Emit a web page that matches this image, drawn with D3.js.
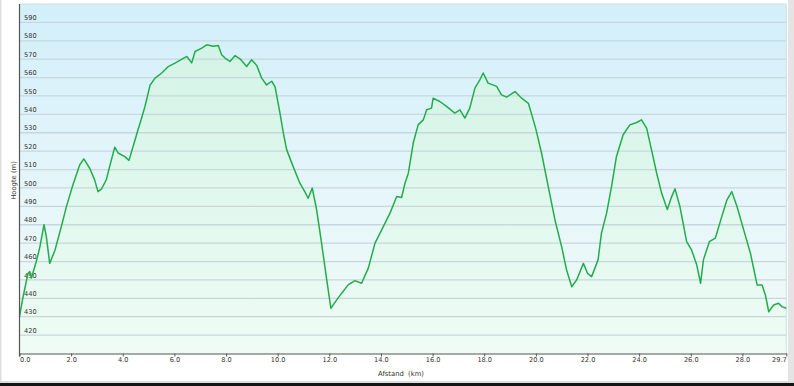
<!DOCTYPE html>
<html>
<head>
<meta charset="utf-8">
<script src="https://cdn.jsdelivr.net/npm/d3@7"></script>
<style>
  html, body { margin: 0; padding: 0; background: #ffffff; }
  svg { display: block; }
</style>
</head>
<body>
<svg id="chart" width="794" height="386"></svg>
<script>
// ---- data ----
const distanceKm = [0.00,0.14,0.33,0.40,0.46,0.65,0.79,0.95,1.04,1.17,1.37,1.62,1.82,2.07,2.33,2.49,2.72,2.91,3.04,3.17,3.36,3.56,3.69,3.82,4.08,4.24,4.40,4.59,4.67,4.86,5.06,5.25,5.51,5.76,6.02,6.48,6.67,6.80,7.06,7.25,7.51,7.70,7.83,7.96,8.15,8.35,8.54,8.80,8.99,9.19,9.38,9.57,9.77,9.90,10.09,10.22,10.35,10.60,10.86,11.05,11.18,11.34,11.51,11.70,11.90,12.06,12.28,12.48,12.73,12.99,13.25,13.51,13.77,14.09,14.35,14.61,14.80,14.93,15.06,15.25,15.44,15.64,15.77,15.96,16.02,16.28,16.54,16.86,17.06,17.25,17.44,17.64,17.83,17.96,18.15,18.48,18.67,18.87,19.19,19.45,19.71,19.90,20.00,20.22,20.48,20.74,21.00,21.19,21.39,21.58,21.84,22.00,22.16,22.41,22.54,22.74,22.93,23.12,23.38,23.64,23.90,24.09,24.29,24.48,24.68,24.87,25.09,25.26,25.39,25.58,25.84,26.03,26.23,26.38,26.49,26.72,26.95,27.20,27.40,27.59,27.79,28.05,28.31,28.57,28.76,28.89,29.02,29.21,29.40,29.53,29.70];
const elevationM = [430,441,453.6,454.5,451,460,468,480,473.5,459,466,479,490,501.7,512.5,515.8,510.7,504.4,498,499.3,504.4,515.3,522.2,519,517,515,522.5,531.6,535.2,544.3,556,559.7,562.5,566,567.9,571.5,568,574.2,576,577.8,577,577.5,572.4,570.6,568.8,572,570.2,566,569.7,566.6,559.7,556,558,555,540.5,529.8,520.7,511.6,502.6,498,494.4,499.9,488,470,450,434.6,439,442.8,447.3,449.6,448.2,456.4,470,479,486.3,495.3,494.8,502.6,508,524.4,534.3,537,542.5,543.4,548.8,547,544.3,540.7,542.5,538,543.4,554.3,558.8,562.5,557,555.2,550.6,549.4,552.4,548.8,546,537,532,519,500.7,482.6,468,455.4,446.3,450,459,453.6,451.8,460.9,475.4,486.3,500.7,517,528.9,534.3,535.6,537,532.5,520.7,508,497.2,488.3,495.3,499.5,489.9,470.8,466.3,458.2,448.2,460.9,470.8,472.7,484.4,493.5,498,489.9,477.2,464.5,447.3,447.3,441.8,432.7,436.4,437.3,435.5,434.6];
const xTickValues = [0,2,4,6,8,10,12,14,16,18,20,22,24,26,28,29.7];
const yTickValues = [420,430,440,450,460,470,480,490,500,510,520,530,540,550,560,570,580,590];
const xTitle = "Afstand  (km)";
const yTitle = "Hoogte (m)";

// ---- layout ----
const svg = d3.select("#chart");
const L = 19.5, R = 786.3, T = 4, B = 353.5;
const x = d3.scaleLinear().domain([0, 29.7]).range([L, R]);
const y = d3.scaleLinear().domain([410, 600]).range([B, T]);
const points = distanceKm.map((d, i) => ({ d, e: elevationM[i] }));

// frame decorations
svg.append("rect").attr("x", 0).attr("y", 0).attr("width", 1.5).attr("height", 382).attr("fill", "#dedede");
svg.append("rect").attr("x", 788).attr("y", 0).attr("width", 6).attr("height", 383).attr("fill", "#e4e4e4");
svg.append("rect").attr("x", 0).attr("y", 381).attr("width", 794).attr("height", 2).attr("fill", "#dcdcdc");
svg.append("rect").attr("x", 0).attr("y", 383).attr("width", 794).attr("height", 3).attr("fill", "#141414");

const defs = svg.append("defs");
const bg = defs.append("linearGradient").attr("id", "bg").attr("x1", 0).attr("y1", 0).attr("x2", 0).attr("y2", 1);
bg.append("stop").attr("offset", "0%").attr("stop-color", "#d2effa");
bg.append("stop").attr("offset", "55%").attr("stop-color", "#e6f6fa");
bg.append("stop").attr("offset", "100%").attr("stop-color", "#f0fbf6");
const af = defs.append("linearGradient").attr("id", "af").attr("gradientUnits", "userSpaceOnUse")
  .attr("x1", 0).attr("y1", y(580)).attr("x2", 0).attr("y2", B);
af.append("stop").attr("offset", "0%").attr("stop-color", "#d3f3e6");
af.append("stop").attr("offset", "100%").attr("stop-color", "#eefcf4");

// plot background
svg.append("rect").attr("x", L).attr("y", T).attr("width", R - L).attr("height", B - T)
  .attr("fill", "url(#bg)");

// area under curve
svg.append("path").datum(points)
  .attr("d", d3.area().x(p => x(p.d)).y0(B).y1(p => y(p.e)))
  .attr("fill", "url(#af)");

// grid lines
svg.append("g").selectAll("line").data(yTickValues).join("line")
  .attr("x1", L).attr("x2", R).attr("y1", d => y(d)).attr("y2", d => y(d))
  .attr("stroke", "#c7d7dd").attr("stroke-width", 1.3);

// plot border (top/right)
svg.append("path").attr("d", `M${L},${T}H${R}V${B}`).attr("fill", "none")
  .attr("stroke", "#cfdfe4").attr("stroke-width", 1);

// y labels inside plot
svg.append("g").selectAll("text").data(yTickValues).join("text")
  .attr("x", L + 4.5).attr("y", d => y(d) - 2.3)
  .attr("font-family", "DejaVu Sans, Verdana, sans-serif").attr("font-size", 6.6)
  .attr("fill", "#333").text(d => d);

// elevation line
svg.append("path").datum(points)
  .attr("d", d3.line().x(p => x(p.d)).y(p => y(p.e)))
  .attr("fill", "none").attr("stroke", "#22ad4b").attr("stroke-width", 1.5)
  .attr("stroke-linejoin", "round");

// x axis
const xAxis = d3.axisBottom(x).tickValues(xTickValues).tickSize(3).tickSizeOuter(0)
  .tickFormat(d => d3.format(".1f")(d));
const gx = svg.append("g").attr("transform", `translate(0,${B})`).call(xAxis);
gx.select(".domain").attr("stroke", "#555").attr("stroke-width", 1.2);
gx.selectAll(".tick line").attr("stroke", "#555");
gx.selectAll(".tick text").attr("font-family", "DejaVu Sans, Verdana, sans-serif")
  .attr("font-size", 6.6).attr("fill", "#333").attr("dy", "0.45em")
  .attr("text-anchor", (d, i, n) => i === 0 ? "start" : (i === n.length - 1 ? "end" : "middle"));

// y axis line
svg.append("line").attr("x1", L).attr("x2", L).attr("y1", T).attr("y2", B + 3)
  .attr("stroke", "#555").attr("stroke-width", 1.2);

// titles
svg.append("text").attr("x", 401).attr("y", 375.5).attr("text-anchor", "middle")
  .attr("font-family", "DejaVu Sans, Verdana, sans-serif").attr("font-size", 6.8)
  .attr("fill", "#333").attr("xml:space", "preserve").text(xTitle);
svg.append("text").attr("transform", "translate(15.8,180.5) rotate(-90)").attr("text-anchor", "middle")
  .attr("font-family", "DejaVu Sans, Verdana, sans-serif").attr("font-size", 6.8)
  .attr("fill", "#333").text(yTitle);
</script>
</body>
</html>
